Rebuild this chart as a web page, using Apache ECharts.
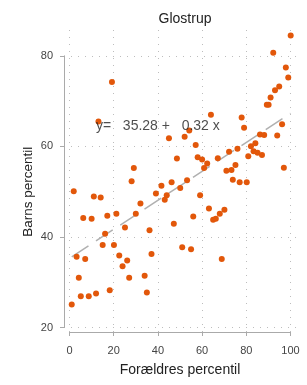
<!DOCTYPE html>
<html><head><meta charset="utf-8">
<script src="https://cdn.jsdelivr.net/npm/echarts@6/dist/echarts.min.js"></script>
<style>html,body{margin:0;padding:0;background:#fff}#c{width:307px;height:385px}</style>
</head><body><div id="c"></div>
<script>
const titleText = 'Glostrup';
const xName = 'Forældres percentil';
const yName = 'Barns percentil';
const xValues = [1.0,1.9,3.2,4.2,5.1,7.1,6.2,8.7,10.0,11.0,14.1,12.0,15.0,16.1,17.1,18.2,20.1,21.2,22.5,24.0,26.1,25.1,27.0,30.0,32.1,28.1,34.0,19.2,13.1,29.1,64.0,45.0,52.1,54.2,57.1,48.6,58.0,60.0,67.1,62.3,60.9,46.2,53.2,41.6,100.1,92.2,97.9,99.0,94.9,93.0,91.0,89.3,90.1,77.9,79.0,96.2,94.0,86.2,88.1,84.1,82.1,76.0,72.2,83.3,85.1,87.1,80.9,97.0,75.1,73.3,71.0,73.9,77.0,80.2,39.1,43.1,44.0,50.1,59.1,63.1,65.0,66.2,68.0,70.1,56.0,47.2,36.2,51.0,55.0,37.1,35.0,68.9];
const yValues = [25.1,50.1,35.6,31.0,26.9,35.1,44.2,26.9,44.0,48.9,48.7,27.5,38.2,40.7,44.7,28.2,38.2,45.1,35.9,33.5,34.8,42.1,31.0,45.1,47.4,52.3,31.4,74.2,65.5,55.2,67.0,61.8,62.1,63.5,60.3,57.3,57.6,57.1,57.4,56.2,55.2,52.1,52.5,51.3,84.5,80.7,77.4,75.2,73.2,72.4,70.8,69.2,69.2,66.4,64.1,64.9,62.4,62.6,62.5,60.7,60.0,59.5,58.8,58.9,58.6,58.1,57.8,55.3,55.9,54.8,54.6,52.6,52.1,52.1,49.6,48.2,49.2,50.8,49.2,46.3,43.8,44.0,45.1,46.0,44.5,42.9,41.5,37.7,37.3,36.2,27.7,35.1];
const xTicks = [0,20,40,60,80,100];
const yTicks = [20,40,60,80];
const intercept = 35.28;
const slope = 0.32;
const fitRange = [1, 100];
const equationText = 'y=   35.28 +   0.32 x';
const equationAt = [40, 64.5];

const points = xValues.map((x, i) => [x, yValues[i]]);
const fitLine = fitRange.map(x => [x, intercept + slope * x]);
const font = 'Liberation Sans, Arial, sans-serif';
const gridStyle = {show: true, lineStyle: {type: [1, 6], color: '#bdbdbd', width: 1}};

const chart = echarts.init(document.getElementById('c'));
chart.setOption({
  animation: false,
  backgroundColor: '#fff',
  textStyle: {fontFamily: font},
  title: {text: titleText, left: 180, textAlign: 'center', top: 7,
    textStyle: {fontSize: 14, fontWeight: 'normal', color: '#222', fontFamily: font}},
  grid: [
    {left: 64, right: 11, top: 30, bottom: 53},
    {left: 69.5, right: 16.5, top: 30, bottom: 53},
    {left: 64, right: 11, top: 55.8, bottom: 57.5}
  ],
  xAxis: [
    {type: 'value', gridIndex: 0, min: -2.5, max: 102.5, show: false},
    {type: 'value', gridIndex: 1, min: xTicks[0], max: xTicks[xTicks.length-1], interval: 20,
      offset: 6,
      axisLine: {show: true, lineStyle: {color: '#aaa', width: 1}},
      axisTick: {show: true, length: 4, lineStyle: {color: '#aaa'}},
      axisLabel: {fontSize: 11, color: '#444', margin: 7, fontFamily: font},
      splitLine: gridStyle,
      name: xName, nameLocation: 'middle', nameGap: 25, nameMoveOverlap: false,
      nameTextStyle: {fontSize: 14, color: '#222', fontFamily: font}},
    {type: 'value', gridIndex: 2, min: 0, max: 1, show: false}
  ],
  yAxis: [
    {type: 'value', gridIndex: 0, min: 19, max: 85.7, show: false},
    {type: 'value', gridIndex: 1, min: 0, max: 1, show: false},
    {type: 'value', gridIndex: 2, min: yTicks[0], max: yTicks[yTicks.length-1], interval: 20,
      offset: 4,
      axisLine: {show: true, lineStyle: {color: '#aaa', width: 1}},
      axisTick: {show: true, length: 4, lineStyle: {color: '#aaa'}},
      axisLabel: {fontSize: 11, color: '#444', margin: 7, fontFamily: font},
      splitLine: gridStyle,
      name: yName, nameLocation: 'middle', nameGap: 25, nameRotate: 90, nameMoveOverlap: false,
      nameTextStyle: {fontSize: 13.5, color: '#222', fontFamily: font}}
  ],
  series: [
    {type: 'line', xAxisIndex: 0, yAxisIndex: 0, data: fitLine, symbol: 'none', silent: true,
      lineStyle: {color: '#b0b0b0', width: 1.5, type: [20, 9]}, z: 2},
    {type: 'scatter', xAxisIndex: 0, yAxisIndex: 0, data: points, symbolSize: 6,
      itemStyle: {color: '#e2570a', opacity: 1}, z: 3},
    {type: 'scatter', xAxisIndex: 0, yAxisIndex: 0, data: [equationAt], symbolSize: 1, silent: true,
      itemStyle: {color: 'rgba(0,0,0,0)'}, z: 4,
      label: {show: true, position: 'inside', formatter: equationText, fontSize: 14, color: '#222', fontFamily: font}}
  ]
});
</script></body></html>
